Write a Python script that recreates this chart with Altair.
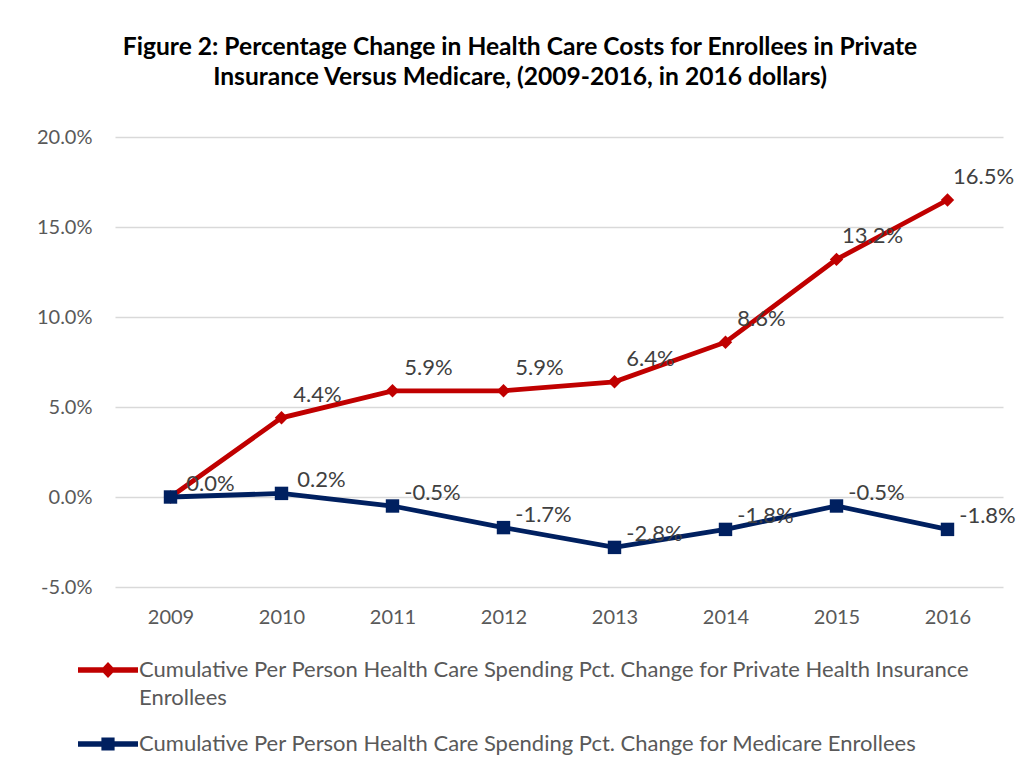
import altair as alt
import pandas as pd

years = ["2009", "2010", "2011", "2012", "2013", "2014", "2015", "2016"]
private_pct = [0.0, 4.4, 5.9, 5.9, 6.4, 8.6, 13.2, 16.5]
medicare_pct = [0.0, 0.2, -0.5, -1.7, -2.8, -1.8, -0.5, -1.8]
series_names = [
    "Cumulative Per Person Health Care Spending Pct. Change for Private Health Insurance Enrollees",
    "Cumulative Per Person Health Care Spending Pct. Change for Medicare Enrollees",
]
y_ticks = [-5, 0, 5, 10, 15, 20]
title_lines = [
    "Figure 2: Percentage Change in Health Care Costs for Enrollees in Private",
    "Insurance Versus Medicare, (2009-2016, in 2016 dollars)",
]

RED = "#C00000"
NAVY = "#002060"
TXT = "#595959"
FONT = "Lato"

rows = []
for name, vals in zip(series_names, [private_pct, medicare_pct]):
    for yr, v in zip(years, vals):
        rows.append({"year": yr, "series": name, "value": v / 100.0})
df = pd.DataFrame(rows)


def wrap(s, limit=84):
    words, lines, cur = s.split(" "), [], ""
    for w in words:
        if cur and len(cur) + 1 + len(w) > limit:
            lines.append(cur)
            cur = w
        else:
            cur = (cur + " " + w) if cur else w
    lines.append(cur)
    return lines


label_expr = "datum.label"
for name in reversed(series_names):
    arr = "[" + ",".join("'" + p + "'" for p in wrap(name)) + "]"
    label_expr = f"datum.label == '{name}' ? {arr} : ({label_expr})"

x_enc = alt.X(
    "year:O",
    scale=alt.Scale(type="point", padding=0.5),
    axis=alt.Axis(title=None, labelAngle=0, ticks=False, domain=False, grid=False,
                  labelPadding=20, labelFontSize=20, labelColor=TXT, labelFont=FONT),
)
y_enc = alt.Y(
    "value:Q",
    scale=alt.Scale(domain=[-0.05, 0.2], nice=False, zero=False),
    axis=alt.Axis(title=None, values=[t / 100 for t in y_ticks], format=".1%", ticks=False,
                  labelExpr="replace(datum.label, '\u2212', '-')",
                  domain=False, grid=True, gridColor="#D9D9D9", gridWidth=1.3,
                  labelPadding=23, labelFontSize=20, labelColor=TXT, labelFont=FONT),
)

base = alt.Chart(df).encode(x=x_enc, y=y_enc)

styles = [
    (series_names[0], RED, "diamond", 36, -23),
    (series_names[1], NAVY, "square", 40, -13),
]

layers = []
for name, col, shp, dx, dy in styles:
    sub = base.transform_filter(alt.datum.series == name)
    layers.append(sub.mark_line(color=col, strokeWidth=4.8))
    layers.append(sub.mark_point(shape=shp, filled=True, size=180, color=col, opacity=1))

for name, col, shp, dx, dy in styles:
    sub = base.transform_filter(alt.datum.series == name)
    if name == series_names[0]:
        sub = sub.transform_filter(alt.datum.value != 0)
    layers.append(
        sub.transform_calculate(lbl="replace(format(datum.value, '.1%'), '\u2212', '-')")
        .mark_text(dx=dx, dy=dy, font=FONT, fontSize=22, color="#404040")
        .encode(text="lbl:N")
    )

diamond_sym = "M-1,-0.09H1V0.09H-1Z M0,-0.27L0.25,0L0,0.27L-0.25,0Z"
square_sym = "M-1,-0.09H1V0.09H-1Z M-0.22,-0.22H0.22V0.22H-0.22Z"

legend_def = alt.Legend(
    title=None, orient="none", legendX=-37, legendY=503, direction="vertical",
    labelFont=FONT, labelFontSize=22, labelColor=TXT, labelLimit=2000,
    labelExpr=label_expr, symbolSize=3600, symbolStrokeWidth=0, labelOffset=1,
    rowPadding=5, labelBaseline="middle",
)
legend_layer = (
    alt.Chart(df)
    .transform_filter("false")
    .mark_point(filled=True, opacity=1, size=3600, strokeWidth=0)
    .encode(
        x=x_enc, y=y_enc,
        color=alt.Color("series:N", scale=alt.Scale(domain=series_names, range=[RED, NAVY]), legend=legend_def),
        shape=alt.Shape("series:N", scale=alt.Scale(domain=series_names, range=[diamond_sym, square_sym]), legend=legend_def),
    )
)
layers.append(legend_layer)

chart = (
    alt.layer(*layers)
    .properties(
        width=888,
        height=450,
        autosize=alt.AutoSizeParams(type="none"),
        padding={"left": 107, "top": 129, "right": 13, "bottom": 178},
        title=alt.TitleParams(text=title_lines, font=FONT, fontSize=24.6, fontWeight="bold",
                              color="#000000", anchor="middle", dx=-39, offset=36, lineHeight=30),
    )
    .configure(style={"guide-label": {"lineHeight": 28}})
    .configure_view(stroke=None)
)

chart.save("out.html", embed_options={"renderer": "svg", "actions": False})
